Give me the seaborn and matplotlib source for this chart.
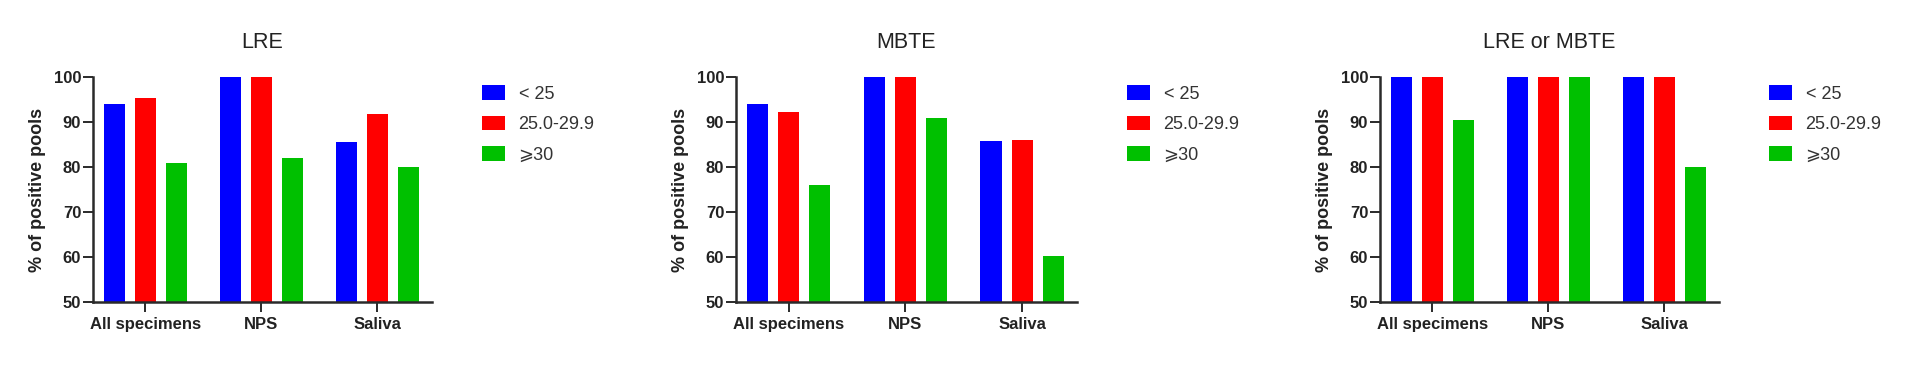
import matplotlib
matplotlib.use("Agg")
import matplotlib.pyplot as plt
import matplotlib.patches as mpatches
import seaborn as sns
import pandas as pd

sns.set_style("ticks")
plt.rcParams['font.family'] = ['Liberation Sans', 'DejaVu Sans', 'Noto Sans CJK SC']

categories = ["All specimens", "NPS", "Saliva"]
groups = ["< 25", "25.0-29.9", "\u2a7e30"]
colors = ["#0000FF", "#FF0000", "#00C000"]
titles = ["LRE", "MBTE", "LRE or MBTE"]

lre_lt25 = [93.9, 100.0, 85.5]
lre_25_29 = [95.4, 100.0, 91.7]
lre_ge30 = [80.8, 81.9, 80.1]

mbte_lt25 = [94.1, 99.9, 85.8]
mbte_25_29 = [92.3, 99.9, 86.1]
mbte_ge30 = [76.1, 90.9, 60.2]

either_lt25 = [100.0, 100.0, 100.0]
either_25_29 = [100.0, 100.0, 100.0]
either_ge30 = [90.4, 100.0, 79.9]

panels = [
    (lre_lt25, lre_25_29, lre_ge30),
    (mbte_lt25, mbte_25_29, mbte_ge30),
    (either_lt25, either_25_29, either_ge30),
]

W, H = 1906, 376
fig = plt.figure(figsize=(W / 100, H / 100), dpi=100)

axes_px = [(93, 432), (736, 1077), (1380, 1719)]
top_px, bot_px = 77, 302
axis_color = "#2a2a2a"

for (vals, title, (x0, x1)) in zip(panels, titles, axes_px):
    ax = fig.add_axes([x0 / W, 1 - bot_px / H, (x1 - x0) / W, (bot_px - top_px) / H])
    rows = []
    for g, series in zip(groups, vals):
        for c, v in zip(categories, series):
            rows.append({"category": c, "group": g, "value": v})
    df = pd.DataFrame(rows)
    sns.barplot(data=df, x="category", y="value", hue="group", order=categories,
                hue_order=groups, palette=colors, width=0.8, gap=0.32,
                saturation=1, errorbar=None, linewidth=0, ax=ax, legend=False)
    ax.set_ylim(50, 100)
    ax.set_xlim(-0.45, 2.47)
    ax.set_yticks([50, 60, 70, 80, 90, 100])
    ax.set_xlabel("")
    ax.set_ylabel("% of positive pools", fontsize=13, fontweight="bold",
                  color="#222222", labelpad=5.5)
    ax.set_title(title, fontsize=15.5, pad=21, color="#222222")
    for s in ["top", "right"]:
        ax.spines[s].set_visible(False)
    for s in ["left", "bottom"]:
        ax.spines[s].set_linewidth(1.8)
        ax.spines[s].set_color(axis_color)
    ax.tick_params(axis="both", length=7, width=1.4, color=axis_color,
                   labelsize=12, labelcolor="#222222")
    ax.tick_params(axis="y", pad=1.5)
    ax.tick_params(axis="x", pad=3.5)
    for lab in ax.get_xticklabels() + ax.get_yticklabels():
        lab.set_fontweight("bold")
    handles = [mpatches.Patch(facecolor=c, edgecolor="none", label=g)
               for c, g in zip(colors, groups)]
    lx = (x1 + 50) / W
    ly = 1 - 78 / H
    fig.legend(handles=handles, loc="upper left", bbox_to_anchor=(lx - 0.004, ly),
               frameon=False, fontsize=13, handlelength=1.3, handleheight=0.85,
               handletextpad=0.75, labelspacing=0.72, borderaxespad=0,
               labelcolor="#333333")

fig.savefig("out.png", dpi=100, facecolor="white")
